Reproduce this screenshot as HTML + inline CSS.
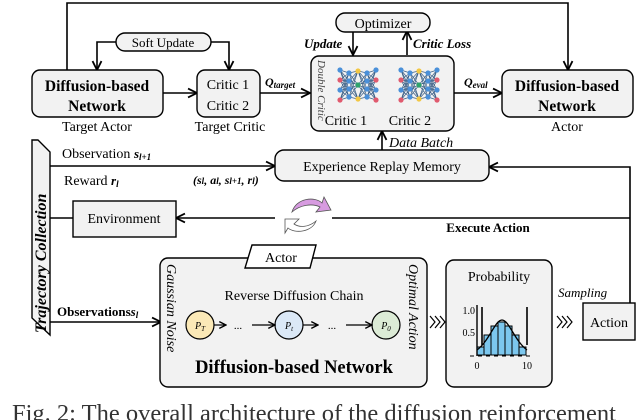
<!DOCTYPE html>
<html><head><meta charset="utf-8"><style>
html,body{margin:0;padding:0;background:#fff;}
svg{display:block;font-family:"Liberation Serif",serif;}
</style></head><body>
<svg width="640" height="420" viewBox="0 0 640 420" xmlns="http://www.w3.org/2000/svg">
<defs>
<marker id="ah" viewBox="0 0 10 10" refX="9" refY="5" markerWidth="7" markerHeight="7" orient="auto-start-reverse"><path d="M1,1 L9,5 L1,9" fill="none" stroke="#000" stroke-width="1.6"/></marker>
<g id="net">
<path stroke="#3b5f86" stroke-width="0.7" fill="none" d="
M-18,-15L-9,-12M-18,-15L-9,-4M-18,-15L-9,4M-18,-15L-9,12
M-18,-5L-9,-12M-18,-5L-9,-4M-18,-5L-9,4M-18,-5L-9,12
M-18,5L-9,-12M-18,5L-9,-4M-18,5L-9,4M-18,5L-9,12
M-18,15L-9,-12M-18,15L-9,-4M-18,15L-9,4M-18,15L-9,12
M-9,-12L0,-14M-9,-12L0,0M-9,-12L0,14M-9,-4L0,-14M-9,-4L0,0M-9,-4L0,14
M-9,4L0,-14M-9,4L0,0M-9,4L0,14M-9,12L0,-14M-9,12L0,0M-9,12L0,14
M9,-12L0,-14M9,-12L0,0M9,-12L0,14M9,-4L0,-14M9,-4L0,0M9,-4L0,14
M9,4L0,-14M9,4L0,0M9,4L0,14M9,12L0,-14M9,12L0,0M9,12L0,14
M18,-15L9,-12M18,-15L9,-4M18,-15L9,4M18,-15L9,12
M18,-5L9,-12M18,-5L9,-4M18,-5L9,4M18,-5L9,12
M18,5L9,-12M18,5L9,-4M18,5L9,4M18,5L9,12
M18,15L9,-12M18,15L9,-4M18,15L9,4M18,15L9,12"/>
<g stroke="none">
<circle cx="-18" cy="-15" r="2.6" fill="#4a90d9"/><circle cx="-18" cy="-5" r="2.6" fill="#e05a6e"/><circle cx="-18" cy="5" r="2.6" fill="#4a90d9"/><circle cx="-18" cy="15" r="2.6" fill="#e05a6e"/>
<circle cx="18" cy="-15" r="2.6" fill="#4a90d9"/><circle cx="18" cy="-5" r="2.6" fill="#e05a6e"/><circle cx="18" cy="5" r="2.6" fill="#4a90d9"/><circle cx="18" cy="15" r="2.6" fill="#e05a6e"/>
<circle cx="-9" cy="-12" r="2.6" fill="#4a90d9"/><circle cx="-9" cy="-4" r="2.6" fill="#4a90d9"/><circle cx="-9" cy="4" r="2.6" fill="#4a90d9"/><circle cx="-9" cy="12" r="2.6" fill="#4a90d9"/>
<circle cx="9" cy="-12" r="2.6" fill="#4a90d9"/><circle cx="9" cy="-4" r="2.6" fill="#4a90d9"/><circle cx="9" cy="4" r="2.6" fill="#4a90d9"/><circle cx="9" cy="12" r="2.6" fill="#4a90d9"/>
<circle cx="0" cy="-14" r="2.6" fill="#f2c744"/><circle cx="0" cy="0" r="2.6" fill="#2ea36b"/><circle cx="0" cy="14" r="2.6" fill="#f2c744"/>
</g>
</g>
</defs>
<g fill="none" stroke="#000" stroke-width="1.6">
<polyline points="67,70 67,3 568,3 568,70" marker-end="url(#ah)"/>
<polyline points="116,42 97,42 97,70" marker-end="url(#ah)"/>
<polyline points="211,42 229,42 229,70" marker-end="url(#ah)"/>
<line x1="163" y1="93" x2="197" y2="93" marker-end="url(#ah)"/>
<line x1="260" y1="93" x2="310" y2="93" marker-end="url(#ah)"/>
<line x1="454" y1="93" x2="502" y2="93" marker-end="url(#ah)"/>
<line x1="353" y1="31" x2="353" y2="55" marker-end="url(#ah)"/>
<line x1="407" y1="55" x2="407" y2="31" marker-end="url(#ah)"/>
<line x1="382" y1="150" x2="382" y2="131" marker-end="url(#ah)"/>
<line x1="50" y1="166" x2="275" y2="166" marker-end="url(#ah)"/>
<polyline points="630,303 630,167 489,167" marker-end="url(#ah)"/>
<line x1="630" y1="218" x2="332" y2="218"/>
<line x1="275" y1="218" x2="176" y2="218" marker-end="url(#ah)"/>
<line x1="50" y1="218" x2="73" y2="218"/>
<line x1="50" y1="322" x2="161" y2="322" marker-end="url(#ah)"/>
</g>
<g stroke="#000" stroke-width="1.4" fill="#f2f2f2">
<rect x="116" y="33" width="95" height="18" rx="9"/>
<rect x="32" y="70" width="131" height="47" rx="8"/>
<rect x="197" y="70" width="63" height="47" rx="8"/>
<rect x="336" y="13" width="94" height="19" rx="9"/>
<rect x="311" y="56" width="143" height="75" rx="8"/>
<rect x="502" y="70" width="131" height="47" rx="8"/>
<rect x="275" y="150" width="214" height="31" rx="9"/>
<rect x="73" y="201" width="103" height="36"/>
<rect x="160" y="258" width="267" height="129" rx="8"/>
<rect x="446" y="260" width="106" height="127" rx="8"/>
<rect x="583" y="303" width="52" height="37"/>
<polygon points="38,140 50,152 50,335 32,318 32,140" fill="#f2f2f2"/>
<polygon points="252,245 316,245 310,268 245,268" fill="#fff"/>
</g>
<use href="#net" x="358" y="85"/>
<use href="#net" x="419" y="85"/>
<path d="M292,212 C296,198 315,196 322,203 L324,197 L331,210 L316,212 L320,207 C312,203 300,205 292,212 Z" fill="#d79be0" stroke="#555" stroke-width="0.8"/>
<path d="M316,221 C312,232 295,234 288,228 L285,233 L285,219 L299,219 L294,224 C300,228 309,227 316,221 Z" fill="#fff" stroke="#555" stroke-width="0.8"/>
<g stroke="#000" stroke-width="1.2">
<circle cx="200" cy="325" r="14" fill="#fbe9b7"/>
<circle cx="289" cy="325" r="14" fill="#dbe8f6"/>
<circle cx="386" cy="325" r="14" fill="#dcebd6"/>
</g>
<g fill="none" stroke="#000" stroke-width="1.2">
<line x1="214" y1="325" x2="226" y2="325" marker-end="url(#ah)"/>
<line x1="252" y1="325" x2="275" y2="325" marker-end="url(#ah)"/>
<line x1="303" y1="325" x2="318" y2="325" marker-end="url(#ah)"/>
<line x1="346" y1="325" x2="372" y2="325" marker-end="url(#ah)"/>
<path d="M430,316 l5,6 -5,6 M435,316 l5,6 -5,6 M440,316 l5,6 -5,6"/>
<path d="M557,316 l5,6 -5,6 M562,316 l5,6 -5,6 M567,316 l5,6 -5,6"/>
</g>
<g stroke="#000" stroke-width="1">
<rect x="477" y="347" width="7" height="8" fill="#7cc7ee"/>
<rect x="484" y="335" width="7" height="20" fill="#7cc7ee"/>
<rect x="491" y="326" width="7" height="29" fill="#7cc7ee"/>
<rect x="498" y="322" width="7" height="33" fill="#7cc7ee"/>
<rect x="505" y="326" width="7" height="29" fill="#7cc7ee"/>
<rect x="512" y="335" width="7" height="20" fill="#7cc7ee"/>
<rect x="519" y="347" width="7" height="8" fill="#7cc7ee"/>
<path d="M477,350 C490,340 495,320 502,320 C509,320 514,340 527,350" fill="none" stroke-width="1.3"/>
<line x1="477" y1="305" x2="477" y2="356" stroke-width="1.4"/>
<line x1="470" y1="356" x2="530" y2="356" stroke-dasharray="4,4"/>
<line x1="482" y1="307" x2="482" y2="345" stroke-width="1.6"/>
<line x1="527" y1="307" x2="527" y2="345" stroke-width="1.6"/>
</g>
<g font-size="14" fill="#000">
<text x="163" y="47" text-anchor="middle" font-size="13">Soft Update</text>
<text x="97" y="91" text-anchor="middle" font-weight="bold" font-size="15.5">Diffusion-based</text>
<text x="97" y="111" text-anchor="middle" font-weight="bold" font-size="15.5">Network</text>
<text x="97" y="131" text-anchor="middle">Target Actor</text>
<text x="228" y="89" text-anchor="middle">Critic 1</text>
<text x="228" y="110" text-anchor="middle">Critic 2</text>
<text x="230" y="131" text-anchor="middle">Target Critic</text>
<text x="265" y="86" font-weight="bold" font-style="italic" font-size="12">Q<tspan font-size="9" dy="2">target</tspan></text>
<text x="383" y="28" text-anchor="middle">Optimizer</text>
<text x="304" y="48" font-weight="bold" font-style="italic" font-size="13">Update</text>
<text x="413" y="48" font-weight="bold" font-style="italic" font-size="13">Critic Loss</text>
<text x="346" y="125" text-anchor="middle">Critic 1</text>
<text x="410" y="125" text-anchor="middle">Critic 2</text>
<text transform="translate(318,60) rotate(90)" font-style="italic" font-size="11" fill="#444">Double Critic</text>
<text x="464" y="86" font-weight="bold" font-style="italic" font-size="12">Q<tspan font-size="9" dy="2">eval</tspan></text>
<text x="567" y="91" text-anchor="middle" font-weight="bold" font-size="15.5">Diffusion-based</text>
<text x="567" y="111" text-anchor="middle" font-weight="bold" font-size="15.5">Network</text>
<text x="567" y="131" text-anchor="middle">Actor</text>
<text x="389" y="147" font-style="italic">Data Batch</text>
<text x="382" y="171" text-anchor="middle">Experience Replay Memory</text>
<text x="62" y="158">Observation <tspan font-style="italic" font-weight="bold" font-size="13">s<tspan font-size="9" dy="2">l+1</tspan></tspan></text>
<text x="64" y="185">Reward <tspan font-style="italic" font-weight="bold" font-size="13">r<tspan font-size="9" dy="2">l</tspan></tspan></text>
<text x="193" y="184" font-size="12" font-weight="bold" font-style="italic">(s<tspan font-size="9">l</tspan>, a<tspan font-size="9">l</tspan>, s<tspan font-size="9">l+1</tspan>, r<tspan font-size="9">l</tspan>)</text>
<text transform="translate(46,333) rotate(-90)" font-size="16" font-weight="bold" font-style="italic">Trajectory Collection</text>
<text x="124" y="223" text-anchor="middle">Environment</text>
<text x="488" y="232" text-anchor="middle" font-weight="bold" font-size="13">Execute Action</text>
<text x="57" y="316" font-weight="bold" font-size="13">Observations<tspan font-style="italic">s<tspan font-size="9" dy="2">l</tspan></tspan></text>
<text x="281" y="262" text-anchor="middle">Actor</text>
<text x="294" y="300" text-anchor="middle">Reverse Diffusion Chain</text>
<text transform="translate(167,264) rotate(90)" font-style="italic" font-size="14">Gaussian Noise</text>
<text transform="translate(409,264) rotate(90)" font-style="italic" font-size="14">Optimal Action</text>
<text x="200" y="329" text-anchor="middle" font-size="10" font-style="italic">P<tspan font-size="7" dy="2">T</tspan></text>
<text x="289" y="329" text-anchor="middle" font-size="10" font-style="italic">P<tspan font-size="7" dy="2">t</tspan></text>
<text x="386" y="329" text-anchor="middle" font-size="10" font-style="italic">P<tspan font-size="7" dy="2">0</tspan></text>
<text x="238" y="329" text-anchor="middle" font-size="11">...</text>
<text x="332" y="329" text-anchor="middle" font-size="11">...</text>
<text x="294" y="373" text-anchor="middle" font-weight="bold" font-size="18.5">Diffusion-based Network</text>
<text x="499" y="281" text-anchor="middle">Probability</text>
<text x="475" y="314" text-anchor="end" font-size="10">1.0</text>
<text x="475" y="336" text-anchor="end" font-size="10">0.5</text>
<text x="477" y="369" text-anchor="middle" font-size="10">0</text>
<text x="527" y="369" text-anchor="middle" font-size="10">10</text>
<text x="558" y="297" font-style="italic" font-size="13">Sampling</text>
<text x="609" y="327" text-anchor="middle">Action</text>
<text x="12" y="421" font-size="24.5" fill="#333">Fig. 2: The overall architecture of the diffusion reinforcement</text>
</g>
</svg>
</body></html>
